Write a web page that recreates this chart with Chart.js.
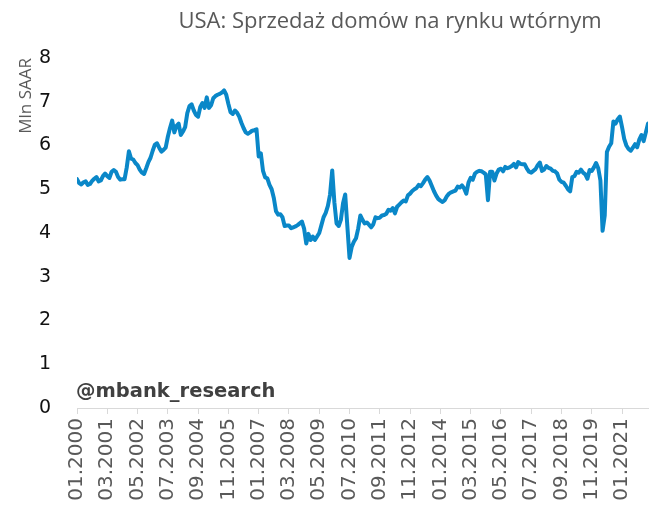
<!DOCTYPE html>
<html>
<head>
<meta charset="utf-8">
<script src="https://cdn.jsdelivr.net/npm/chart.js@4/dist/chart.umd.min.js"></script>
<style>
  html, body { margin: 0; padding: 0; background: #fff; }
  #wrap { width: 664px; height: 516px; position: relative; }
</style>
</head>
<body>
<div id="wrap"><canvas id="c" width="664" height="516"></canvas></div>
<script>
// ---- DATA ----
const chartTitle = 'USA: Sprzedaż domów na rynku wtórnym';
const yAxisTitle = 'Mln SAAR';
const watermark = '@mbank_research';
const startYear = 2000;
const startMonth = 1;
const tickEvery = 14; // months between x tick labels
const yTicks = [0, 1, 2, 3, 4, 5, 6, 7, 8];

// existing home sales, SAAR, millions (monthly from 01.2000)
const sales2000 = [5.23, 5.14, 5.11, 5.16, 5.18, 5.10, 5.12, 5.19, 5.24, 5.28, 5.18, 5.20];
const sales2001 = [5.30, 5.36, 5.30, 5.26, 5.40, 5.44, 5.40, 5.28, 5.22, 5.23, 5.23, 5.50];
const sales2002 = [5.87, 5.70, 5.68, 5.60, 5.55, 5.45, 5.38, 5.35, 5.48, 5.62, 5.72, 5.88];
const sales2003 = [6.02, 6.05, 5.95, 5.86, 5.90, 5.95, 6.20, 6.40, 6.57, 6.30, 6.45, 6.50];
const sales2004 = [6.24, 6.32, 6.42, 6.74, 6.90, 6.94, 6.80, 6.70, 6.66, 6.88, 6.97, 6.86];
const sales2005 = [7.10, 6.86, 6.92, 7.08, 7.13, 7.16, 7.18, 7.21, 7.26, 7.16, 6.95, 6.76];
const sales2006 = [6.72, 6.80, 6.75, 6.66, 6.52, 6.40, 6.30, 6.27, 6.30, 6.34, 6.35, 6.37];
const sales2007 = [5.75, 5.82, 5.42, 5.27, 5.25, 5.10, 5.00, 4.80, 4.50, 4.42, 4.43, 4.36];
const sales2008 = [4.16, 4.17, 4.17, 4.11, 4.13, 4.15, 4.18, 4.22, 4.26, 4.10, 3.76, 3.98];
const sales2009 = [3.84, 3.92, 3.84, 3.92, 4.00, 4.18, 4.36, 4.46, 4.62, 4.88, 5.43, 4.70];
const sales2010 = [4.22, 4.16, 4.30, 4.68, 4.88, 4.15, 3.43, 3.68, 3.80, 3.88, 4.10, 4.40];
const sales2011 = [4.30, 4.22, 4.24, 4.19, 4.13, 4.20, 4.36, 4.34, 4.35, 4.40, 4.41, 4.44];
const sales2012 = [4.53, 4.51, 4.57, 4.45, 4.60, 4.65, 4.70, 4.74, 4.72, 4.86, 4.90, 4.96];
const sales2013 = [5.00, 5.03, 5.10, 5.07, 5.14, 5.22, 5.28, 5.20, 5.08, 4.96, 4.86, 4.78];
const sales2014 = [4.74, 4.71, 4.75, 4.84, 4.90, 4.93, 4.95, 4.97, 5.06, 5.04, 5.09, 5.02];
const sales2015 = [4.90, 5.15, 5.26, 5.22, 5.36, 5.40, 5.42, 5.41, 5.38, 5.34, 4.75, 5.40];
const sales2016 = [5.40, 5.20, 5.36, 5.45, 5.47, 5.41, 5.51, 5.48, 5.50, 5.53, 5.58, 5.50];
const sales2017 = [5.62, 5.58, 5.57, 5.57, 5.47, 5.40, 5.38, 5.42, 5.46, 5.55, 5.61, 5.42];
const sales2018 = [5.45, 5.53, 5.49, 5.47, 5.42, 5.41, 5.36, 5.22, 5.17, 5.15, 5.08, 5.00];
const sales2019 = [4.95, 5.28, 5.30, 5.40, 5.38, 5.45, 5.38, 5.34, 5.24, 5.44, 5.42, 5.50];
const sales2020 = [5.60, 5.48, 5.20, 4.05, 4.40, 5.85, 5.97, 6.05, 6.55, 6.50, 6.60, 6.66];
const sales2021 = [6.42, 6.15, 6.00, 5.92, 5.88, 5.95, 6.03, 5.96, 6.14, 6.24, 6.10, 6.30];
const sales2022 = [6.50];

const sales = [].concat(sales2000, sales2001, sales2002, sales2003, sales2004, sales2005,
  sales2006, sales2007, sales2008, sales2009, sales2010, sales2011, sales2012, sales2013,
  sales2014, sales2015, sales2016, sales2017, sales2018, sales2019, sales2020, sales2021, sales2022);

// month categories "MM.YYYY"
const months = sales.map((_, i) => {
  const m = (startMonth - 1 + i) % 12 + 1;
  const y = startYear + Math.floor((startMonth - 1 + i) / 12);
  return (m < 10 ? '0' : '') + m + '.' + y;
});

const points = sales.map((v, i) => ({ x: i, y: v }));

// ---- PLUGINS ----
const decor = {
  id: 'decor',
  afterDraw(chart) {
    const ctx = chart.ctx;
    ctx.save();
    ctx.fillStyle = '#595959';
    ctx.font = '22px "Open Sans", sans-serif';
    ctx.textAlign = 'center';
    ctx.textBaseline = 'middle';
    ctx.fillText(chartTitle, 390, 22);
    ctx.fillStyle = '#404040';
    ctx.font = 'bold 19.5px "DejaVu Sans", sans-serif';
    ctx.textAlign = 'left';
    ctx.textBaseline = 'alphabetic';
    ctx.fillText(watermark, chart.chartArea.left - 1, chart.chartArea.bottom - 11);
    ctx.restore();
  }
};

new Chart(document.getElementById('c'), {
  type: 'line',
  data: {
    datasets: [{
      data: points,
      borderColor: '#0a87c8',
      borderWidth: 4,
      pointRadius: 0,
      tension: 0,
      fill: false,
      borderJoinStyle: 'round',
      borderCapStyle: 'round'
    }]
  },
  options: {
    responsive: false,
    animation: false,
    layout: { padding: { left: 0, right: 16, top: 58, bottom: 0 } },
    plugins: { legend: { display: false }, title: { display: false }, tooltip: { enabled: false } },
    scales: {
      x: {
        type: 'linear',
        min: 0,
        max: sales.length - 1,
        afterFit(s) { s.height = 108; },
        afterBuildTicks(s) {
          const t = [];
          for (let i = 0; i < sales.length; i += tickEvery) t.push({ value: i });
          s.ticks = t;
        },
        ticks: {
          autoSkip: false,
          minRotation: 90,
          maxRotation: 90,
          padding: 4,
          color: '#595959',
          font: { family: '"DejaVu Sans", sans-serif', size: 20 },
          callback: (v) => months[v]
        },
        grid: { display: true, drawOnChartArea: false, drawTicks: true, tickLength: 6, color: '#d9d9d9', tickColor: '#d9d9d9' },
        border: { display: true, color: '#d9d9d9', width: 1 }
      },
      y: {
        min: 0,
        max: 8,
        afterFit(s) { s.width = 77; },
        afterBuildTicks(s) { s.ticks = yTicks.map(v => ({ value: v })); },
        ticks: {
          padding: 18,
          color: '#111',
          font: { family: '"DejaVu Sans", sans-serif', size: 19 }
        },
        grid: { display: false },
        border: { display: false },
        title: {
          display: true,
          text: yAxisTitle,
          align: 'end',
          color: '#595959',
          font: { family: '"Open Sans", sans-serif', size: 17 },
          padding: { top: 16, bottom: 0 }
        }
      }
    }
  },
  plugins: [decor]
});
</script>
</body>
</html>
